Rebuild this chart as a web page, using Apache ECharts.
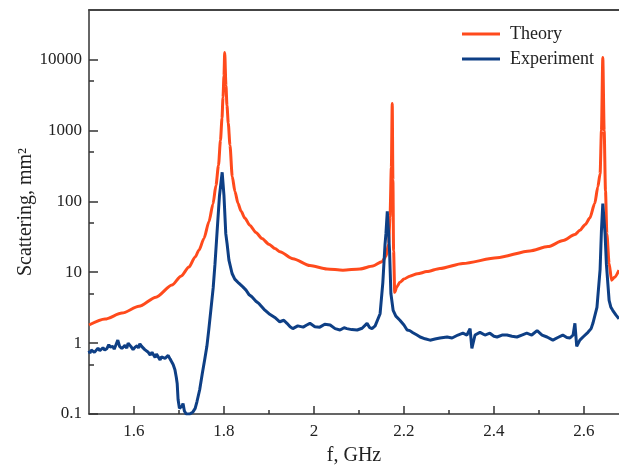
<!DOCTYPE html>
<html>
<head>
<meta charset="utf-8">
<script src="https://cdn.jsdelivr.net/npm/echarts@6/dist/echarts.min.js"></script>
<style>
  html, body { margin: 0; padding: 0; background: #fff; }
  #chart { width: 619px; height: 466px; }
</style>
</head>
<body>
<div id="chart"></div>
<script>
// x ticks (GHz)
var xTicks = [1.6, 1.8, 2, 2.2, 2.4, 2.6];
var xMinorTicks = [1.7, 1.9, 2.1, 2.3, 2.5];
// y ticks (log)
var yTicks = [0.1, 1, 10, 100, 1000, 10000];
var yMinorTicks = [0.5, 5, 50, 500, 5000];

// Theory curve
var theoryF = [1.500, 1.5356, 1.5733, 1.6111, 1.6489, 1.6844, 1.7044, 1.7222, 1.7356, 1.7444,
  1.7556, 1.7667, 1.7756, 1.7822, 1.7878, 1.7922, 1.7956, 1.7978, 1.8000, 1.8016,
  1.8044, 1.8067, 1.8096, 1.8133, 1.8184, 1.8244, 1.8311, 1.8378, 1.8467, 1.8578,
  1.8711, 1.8844, 1.9000, 1.9133, 1.9244, 1.9533, 1.9911, 2.0289, 2.0644, 2.1022,
  2.1311, 2.1511, 2.1600, 2.166, 2.169, 2.172, 2.174, 2.1755, 2.177, 2.1795,
  2.184, 2.191, 2.200, 2.213, 2.230, 2.251, 2.280, 2.331, 2.407, 2.480,
  2.520, 2.554, 2.580, 2.591, 2.603, 2.613, 2.624, 2.631, 2.636, 2.639,
  2.642, 2.645, 2.648, 2.651, 2.656, 2.6615, 2.668, 2.678];
var theoryV = [1.8, 2.18, 2.65, 3.3, 4.45, 6.6, 8.8, 11.8, 16.3, 20.4,
  30, 52, 92, 168, 321, 725, 1480, 2920, 5920, 12600,
  4300, 2240, 1260, 620, 224, 138, 94, 73, 57.5, 45.7,
  36.3, 29.9, 24.8, 21.6, 19.5, 15.5, 12.4, 11.1, 10.7, 11.1,
  12.2, 14.1, 16.6, 25, 60, 300, 2400, 200, 20, 5.2,
  6.2, 7.2, 8, 8.8, 9.5, 10.2, 11.3, 13.3, 16, 20,
  23, 28, 34, 39, 47, 58, 93, 160, 245, 1000,
  10700, 1000, 140, 35, 13.4, 7.7, 8.5, 10.7];

// Experiment curve
var expF = [1.500, 1.502, 1.505, 1.509, 1.512, 1.516, 1.520, 1.524, 1.527, 1.531,
  1.535, 1.540, 1.544, 1.547, 1.550, 1.553, 1.556, 1.560, 1.564, 1.568,
  1.573, 1.577, 1.580, 1.584, 1.587, 1.590, 1.593, 1.598, 1.602, 1.607,
  1.610, 1.613, 1.617, 1.620, 1.624, 1.627, 1.631, 1.636, 1.640, 1.642,
  1.647, 1.650, 1.653, 1.658, 1.661, 1.664, 1.669, 1.673, 1.676, 1.680,
  1.684, 1.687, 1.691, 1.694, 1.696, 1.698, 1.701, 1.704, 1.707, 1.709,
  1.712, 1.716, 1.720, 1.724, 1.727, 1.731, 1.736, 1.740, 1.746, 1.752,
  1.757, 1.762, 1.766, 1.771, 1.776, 1.780, 1.785, 1.790, 1.796, 1.800,
  1.804, 1.807, 1.811, 1.818, 1.824, 1.833, 1.842, 1.849, 1.856, 1.862,
  1.871, 1.878, 1.889, 1.900, 1.913, 1.924, 1.933, 1.940, 1.947, 1.953,
  1.964, 1.976, 1.984, 1.991, 2.002, 2.013, 2.024, 2.036, 2.047, 2.058,
  2.067, 2.073, 2.084, 2.096, 2.107, 2.118, 2.124, 2.129, 2.136, 2.140,
  2.147, 2.153, 2.158, 2.160, 2.163, 2.166, 2.168, 2.171, 2.176, 2.182,
  2.191, 2.200, 2.207, 2.213, 2.220, 2.229, 2.236, 2.247, 2.258, 2.269,
  2.280, 2.296, 2.307, 2.320, 2.331, 2.340, 2.347, 2.351, 2.358, 2.369,
  2.380, 2.391, 2.400, 2.407, 2.418, 2.429, 2.440, 2.451, 2.462, 2.473,
  2.484, 2.496, 2.507, 2.518, 2.531, 2.542, 2.553, 2.562, 2.569, 2.576,
  2.580, 2.584, 2.591, 2.598, 2.609, 2.616, 2.620, 2.629, 2.636, 2.639,
  2.642, 2.647, 2.650, 2.656, 2.660, 2.664, 2.671, 2.678];
var expV = [0.78, 0.72, 0.8, 0.81, 0.74, 0.76, 0.85, 0.78, 0.83, 0.86,
  0.8, 0.84, 0.95, 0.88, 0.92, 0.9, 0.82, 0.95, 1.1, 0.9,
  0.84, 0.88, 0.93, 0.85, 1.0, 0.94, 0.9, 0.81, 0.87, 0.92,
  0.85, 0.98, 0.9, 0.86, 0.81, 0.78, 0.75, 0.68, 0.74, 0.72,
  0.63, 0.7, 0.66, 0.58, 0.64, 0.62, 0.61, 0.65, 0.67, 0.6,
  0.58, 0.5, 0.42, 0.33, 0.27, 0.16, 0.12, 0.125, 0.13, 0.14,
  0.11, 0.1, 0.1, 0.1, 0.1, 0.107, 0.12, 0.15, 0.22, 0.38,
  0.58, 0.9, 1.5, 3, 6, 13, 40, 120, 257, 120,
  35, 25, 14.8, 9.6, 8, 7, 6.2, 5.6, 4.8, 4.5,
  3.9, 3.6, 3.0, 2.6, 2.3, 2.0, 2.1, 1.9, 1.7, 1.6,
  1.75, 1.68, 1.8, 1.9, 1.7, 1.68, 1.85, 1.8, 1.6, 1.53,
  1.65, 1.6, 1.55, 1.53, 1.62, 1.9, 1.65, 1.6, 1.75, 1.7,
  2.6, 7, 25, 35, 72, 35, 20, 5, 2.9, 2.4,
  2.1, 1.8, 1.53, 1.5, 1.4, 1.3, 1.22, 1.15, 1.1, 1.14,
  1.18, 1.22, 1.18, 1.3, 1.38, 1.3, 1.6, 0.84, 1.3, 1.42,
  1.3, 1.38, 1.25, 1.22, 1.3, 1.3, 1.25, 1.22, 1.3, 1.38,
  1.3, 1.5, 1.3, 1.22, 1.1, 1.2, 1.3, 1.2, 1.18, 1.3,
  1.9, 0.9, 1.1, 1.22, 1.42, 1.6, 1.9, 3.2, 11, 39,
  93, 35, 13, 4, 3.2, 2.9, 2.5, 2.2];

var serif = 'Liberation Serif';
var axisColor = '#333';

function pairs(xs, ys) {
  return xs.map(function (x, i) { return [x, ys[i]]; });
}

var chart = echarts.init(document.getElementById('chart'));
var option = {
  animation: false,
  backgroundColor: '#fff',
  grid: { left: 89, right: 0, top: 10, bottom: 52, outerBoundsMode: 'none' },
  legend: {
    orient: 'vertical',
    left: 457,
    top: 20,
    icon: 'rect',
    itemWidth: 38,
    itemHeight: 3,
    itemGap: 7,
    textStyle: { fontFamily: serif, fontSize: 18, color: '#222', padding: [0, 0, 0, 5] },
    data: ['Theory', 'Experiment']
  },
  xAxis: [{
    type: 'value',
    min: 1.5,
    max: 2.678,
    name: 'f, GHz',
    nameLocation: 'middle',
    nameGap: 32,
    nameMoveOverlap: false,
    nameTextStyle: { fontFamily: serif, fontSize: 20, color: '#222' },
    axisLine: { lineStyle: { color: axisColor, width: 1.5 } },
    axisTick: { inside: true, length: 8, customValues: xTicks, lineStyle: { color: axisColor, width: 1.5 } },
    axisLabel: { customValues: xTicks, margin: 9, fontFamily: serif, fontSize: 17, color: '#222' },
    splitLine: { show: false }
  }, {
    type: 'value',
    min: 1.5,
    max: 2.678,
    position: 'bottom',
    axisLine: { show: false },
    axisTick: { inside: true, length: 4, customValues: xMinorTicks, lineStyle: { color: axisColor, width: 1.5 } },
    axisLabel: { show: false },
    splitLine: { show: false }
  }, {
    type: 'value',
    min: 1.5,
    max: 2.678,
    position: 'top',
    axisLine: { lineStyle: { color: '#444', width: 2 } },
    axisTick: { show: false },
    axisLabel: { show: false },
    splitLine: { show: false }
  }],
  yAxis: [{
    type: 'log',
    logBase: 10,
    min: 0.1,
    max: 50000,
    name: 'Scattering, mm²',
    nameLocation: 'middle',
    nameGap: 53,
    nameMoveOverlap: false,
    nameTextStyle: { fontFamily: serif, fontSize: 20, color: '#222' },
    axisLine: { show: true, lineStyle: { color: axisColor, width: 1.5 } },
    axisTick: { inside: true, length: 9, customValues: yTicks, lineStyle: { color: axisColor, width: 1.5 } },
    axisLabel: {
      customValues: yTicks,
      margin: 7,
      fontFamily: serif,
      fontSize: 17,
      color: '#222',
      formatter: function (v) { return String(+Number(v).toPrecision(6)); }
    },
    splitLine: { show: false }
  }, {
    type: 'log',
    logBase: 10,
    min: 0.1,
    max: 50000,
    position: 'left',
    axisLine: { show: false },
    axisTick: { inside: true, length: 5, customValues: yMinorTicks, lineStyle: { color: axisColor, width: 1.5 } },
    axisLabel: { show: false },
    splitLine: { show: false }
  }],
  series: [{
    name: 'Theory',
    type: 'line',
    xAxisIndex: 0,
    yAxisIndex: 0,
    data: pairs(theoryF, theoryV),
    showSymbol: false,
    smooth: 0.25,
    smoothMonotone: 'x',
    color: '#FF4A1C',
    lineStyle: { width: 3, color: '#FF4A1C' }
  }, {
    name: 'Experiment',
    type: 'line',
    xAxisIndex: 0,
    yAxisIndex: 0,
    data: pairs(expF, expV),
    showSymbol: false,
    color: '#0E3F85',
    lineStyle: { width: 3, color: '#0E3F85' }
  }]
};
chart.setOption(option);
</script>
</body>
</html>
